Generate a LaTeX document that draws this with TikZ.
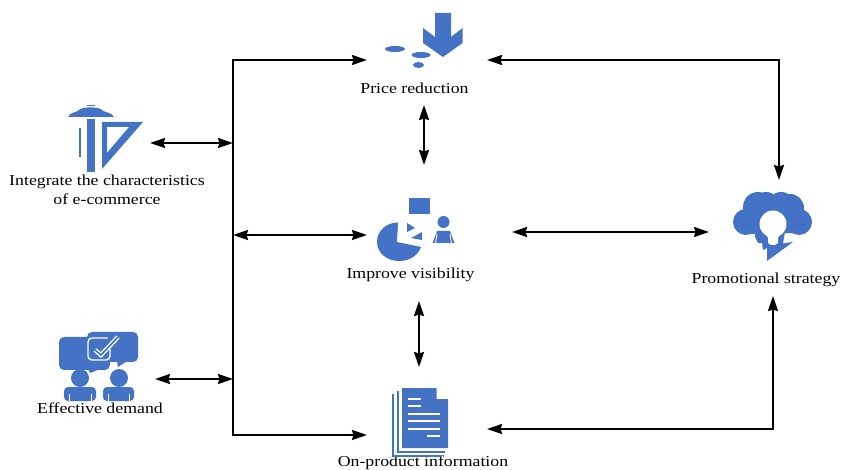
\documentclass[tikz,border=0pt]{standalone}
\usepackage{fontspec}
\setmainfont{Liberation Serif}
\usetikzlibrary{arrows.meta}
\definecolor{iconblue}{HTML}{4472C4}
\definecolor{iconline}{HTML}{3A66B4}
\tikzset{
  link/.style={line width=2pt,draw=black},
  one/.style={link,-{Stealth[length=15pt,width=10pt,inset=1.5pt]}},
  both/.style={link,{Stealth[length=15pt,width=10pt,inset=1.5pt]}-{Stealth[length=15pt,width=10pt,inset=1.5pt]}},
  lab/.style={font=\fontsize{15.2}{19}\selectfont,xscale=1.17,inner sep=0pt,align=center,text=black},
  ico/.style={fill=iconblue,draw=none},
  cut/.style={fill=white,draw=none},
  slit/.style={draw=white,line width=1.3pt},
}
\begin{document}
\begin{tikzpicture}[x=1pt,y=-1pt]
\useasboundingbox (0,0) rectangle (841,470);
% coordinates
\coordinate (busT) at (233,60);
\coordinate (busB) at (233,435);
\coordinate (busI) at (233,143);
\coordinate (busV) at (233,235);
\coordinate (busE) at (233,379);
\coordinate (priceL) at (367,60);
\coordinate (priceR) at (487,60);
\coordinate (priceB) at (424,105);
\coordinate (visT) at (424,165);
\coordinate (visL) at (367,235);
\coordinate (visR) at (512,232);
\coordinate (visB) at (419,301);
\coordinate (infoT) at (419,367);
\coordinate (infoL) at (367,435);
\coordinate (infoR) at (487,429);
\coordinate (intR) at (150,143);
\coordinate (effR) at (155,379);
\coordinate (proL) at (709,232);
\coordinate (proT) at (779,180);
\coordinate (proB) at (773,296);
\coordinate (cornerTR) at (779,60);
\coordinate (cornerBR) at (773,429);
% labels
\node[lab] (price) at (414.5,88) {Price reduction};
\node[lab] (inta) at (107,181.5) {Integrate the characteristics};
\node[lab] (intb) at (107,199.5) {of e-commerce};
\node[lab] (vis) at (410.5,274.5) {Improve visibility};
\node[lab] (pro) at (766,279.5) {Promotional strategy};
\node[lab] (eff) at (100,408) {Effective demand};
\node[lab] (info) at (423,463) {On-product information};
% connectors
\draw[link,line cap=rect] (busT) -- (busB);
\draw[one] (busT) -- (priceL);
\draw[one] (busB) -- (infoL);
\draw[both] (intR) -- (busI);
\draw[both] (busV) -- (visL);
\draw[both] (effR) -- (busE);
\draw[both] (priceB) -- (visT);
\draw[both] (visB) -- (infoT);
\draw[both] (visR) -- (proL);
\draw[both] (priceR) -- (cornerTR) -- (proT);
\draw[both] (infoR) -- (cornerBR) -- (proB);
% price icon
\fill[ico] (435,13) -- (451,13) -- (451,37) -- (462.5,28) -- (462.5,43) -- (443,57) -- (423,43) -- (423,28) -- (435,37) -- cycle;
\fill[ico] (395,49) ellipse (10 and 3);
\fill[ico] (421,55) ellipse (9.5 and 3);
\fill[ico] (418.5,65) ellipse (5.5 and 3);
% ruler icon
\fill[ico] (68,117) .. controls (70,112) and (76,113) .. (79,110) .. controls (82,106.5) and (99,106.5) .. (102,110) .. controls (105,113) and (112,112) .. (114,117) -- cycle;
\fill[ico] (87,105) rectangle (95,106);
\fill[ico] (87,119) rectangle (95,172);
\fill[ico] (78.5,128) rectangle (81,157);
\fill[ico,even odd rule] (102,122) -- (143,122) -- (102,169) -- cycle (107,127) -- (129,127) -- (107,153) -- cycle;
% visibility icon
\fill[ico] (409,198) rectangle (430,214);
\fill[ico] (397,242) -- (398,222.5) .. controls (386,222.5) and (377,231) .. (377,242) .. controls (377,253) and (387,261) .. (399,261) .. controls (409,261) and (418,256) .. (421,247) -- cycle;
\fill[ico] (407,223) -- (415,228) -- (407,232) -- cycle;
\fill[ico] (422,232) -- (422,240) -- (411,238) -- cycle;
\fill[ico] (443.5,222) circle (6);
\fill[ico] (437,231) -- (450,231) -- (454.5,243) -- (432.5,243) -- cycle;
\draw[slit,line width=.9pt] (437,234) -- (435.5,243.5) (450,234) -- (451.5,243.5);
% cloud icon
\fill[ico] (746,222) circle (13) (758,207) circle (15) (766,206) circle (14) (781,206) circle (14) (790,208) circle (14) (799,222) circle (13);
\fill[ico] (746,222) -- (758,205) -- (790,205) -- (799,222) -- (799,233) -- (746,234) -- cycle;
\fill[ico] (755,232) -- (755,237) -- (758,243) -- (762,243) -- (763,250) -- (767,248) -- (767,261) -- (793,242) -- (783,243.5) -- (785,232) -- cycle;
\draw[iconline,line width=0.4pt] (773,198) -- (773,212) (752,205) -- (763,215) (794,205) -- (783,215) (741,225) -- (760,225) (790,225) -- (805,225);
\fill[cut] (773,224) circle (13.5);
\fill[cut] (766,234) -- (780,234) -- (778,238) -- (778,243) -- (775,245) -- (771,245) -- (768,243) -- (768,238) -- cycle;
% demand icon
\fill[ico,rounded corners=5pt] (59,337) rectangle (110,370);
\fill[ico] (88,369) -- (90,373) -- (100,369) -- cycle;
\fill[ico,rounded corners=5pt] (87,332) rectangle (138,362);
\fill[ico] (117,361) -- (118,367) -- (127,361) -- cycle;
\draw[white,line width=1.4pt,rounded corners=4pt] (110,344) -- (110,360) -- (88,360) -- (88,338) -- (108,338);
\draw[white,line width=4.4pt] (95,350) -- (101,355) -- (118,337);
\draw[iconblue,line width=1.6pt] (95,350) -- (101,355) -- (118,337);
\fill[ico] (80,378) circle (9) (119,378) circle (9);
\fill[ico,rounded corners=4pt] (64,401) -- (64,387) -- (96,387) -- (96,401) -- cycle;
\fill[ico,rounded corners=4pt] (103,401) -- (103,387) -- (134,387) -- (134,401) -- cycle;
\draw[slit,line width=.7pt] (69,394) -- (69,401) (91,394) -- (91,401) (108,394) -- (108,401) (129,394) -- (129,401);
% document icon
\fill[ico] (402,388) -- (436.5,388) -- (436.5,399) -- (448,399) -- (448,448) -- (402,448) -- cycle;
\draw[iconblue,line width=2pt] (397.5,391) -- (397.5,451.5) -- (445,451.5);
\draw[iconblue,line width=2pt] (393,394) -- (393,455.5) -- (441,455.5);
\draw[white,line width=1.2pt] (408,399) -- (421,399) (408,406) -- (421,406) (408,414) -- (440,414) (408,421) -- (440,421) (408,429) -- (440,429) (427,436) -- (440,436);
\end{tikzpicture}
\end{document}
